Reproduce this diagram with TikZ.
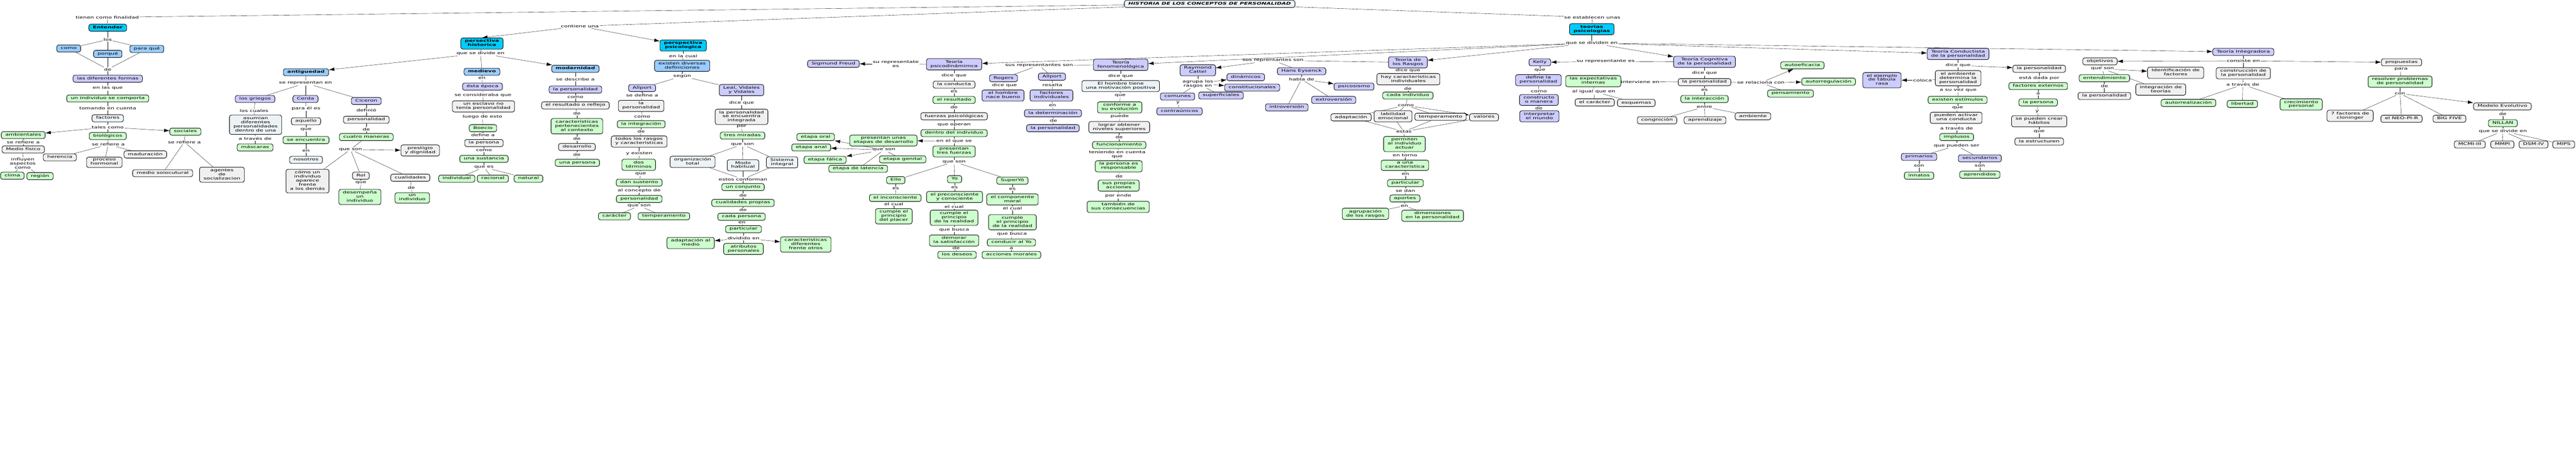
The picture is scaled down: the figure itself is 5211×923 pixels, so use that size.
\documentclass[tikz,border=0pt]{standalone}
\usepackage{fontspec}
\setmainfont{DejaVu Sans}[FakeStretch=1.57]
\usetikzlibrary{arrows.meta,backgrounds}
\definecolor{mapcyan}{RGB}{0,204,255}
\definecolor{mapblue}{RGB}{153,204,255}
\definecolor{maplilac}{RGB}{204,204,255}
\definecolor{mapgreen}{RGB}{204,255,204}
\definecolor{mapgrey}{RGB}{240,240,240}
\definecolor{mappale}{RGB}{236,243,246}
\newcommand{\mapfont}{\fontsize{7.5}{8.3}\selectfont}
\tikzset{
  concept/.style={draw,line width=.9pt,rounded corners=4pt,inner xsep=8pt,inner ysep=3pt,
    align=center,font=\mapfont,execute at begin node=\strut,execute at end node=\strut},
  titlebox/.style={concept,fill=mappale,font=\mapfont\bfseries\itshape},
  cyanbox/.style={concept,fill=mapcyan,font=\mapfont\bfseries},
  bluebox/.style={concept,fill=mapblue},
  boldblue/.style={concept,fill=mapblue,font=\mapfont\bfseries},
  lilacbox/.style={concept,fill=maplilac},
  greenbox/.style={concept,fill=mapgreen},
  greybox/.style={concept,fill=mapgrey},
  palebox/.style={concept,fill=mappale},
  lnk/.style={inner sep=1pt,align=center,font=\mapfont}
}
\begin{document}
\begin{tikzpicture}[x=1pt,y=-1pt,>={Latex[length=11pt,width=7pt]},line width=.8pt]
\useasboundingbox (0,0) rectangle (5211,923);

\node[titlebox] (title) at (2447,8) {HISTORIA DE LOS CONCEPTOS DE PERSONALIDAD};
\node[lnk] (lfin) at (217,35) {tienen como finalidad};
\node[lnk] (lcont) at (1173,53) {contiene una};
\node[lnk] (lestab) at (3221,35) {se establecen unas};

\node[cyanbox] (ent) at (218,56) {Entender};
\node[lnk] (llos) at (218,80) {los};
\node[bluebox] (como) at (139,98) {como};
\node[bluebox] (porque) at (218,109) {porqué};
\node[bluebox] (paraque) at (297,99) {para qué};
\node[lnk] (lde1) at (218,140) {de};
\node[lilacbox] (formas) at (218,159) {las diferentes formas};
\node[lnk] (lenlas) at (218,178) {en las que};
\node[greenbox] (comporta) at (218,199) {un individuo se comporta};
\node[lnk] (ltomando) at (218,219) {tomando en cuenta};
\node[palebox] (factores) at (218,239) {factores};
\node[lnk] (ltales) at (218,257) {tales como};
\node[greenbox] (ambient) at (47,273) {ambientales};
\node[greenbox] (biolog) at (218,275) {biológicos};
\node[greenbox] (social) at (375,266) {sociales};
\node[lnk] (lref1) at (47,287) {se refiere a};
\node[greybox] (mfisico) at (47,302) {Medio físico};
\node[lnk] (linfl) at (46,330) {influyen\\aspectos\\como};
\node[greenbox] (clima) at (25,355) {clima};
\node[greenbox] (region) at (81,356) {región};
\node[lnk] (lref2) at (219,292) {se refiere a};
\node[greybox] (herencia) at (121,318) {herencia};
\node[greybox] (hormonal) at (211,328) {proceso\\hormonal};
\node[greybox] (madur) at (294,312) {maduración};
\node[lnk] (lref3) at (373,287) {se refiere a};
\node[greybox] (medsoc) at (329,350) {medio soiocutural};
\node[greybox] (agentes) at (449,353) {agentes\\de\\socializacion};

\node[cyanbox] (hist) at (975,88) {persectiva\\historica};
\node[lnk] (ldivide) at (972,108) {que se divide en};
\node[boldblue] (antig) at (619,146) {antiguedad};
\node[boldblue] (medievo) at (975,145) {medievo};
\node[boldblue] (modern) at (1164,139) {modernidad};
\node[lnk] (lrepres) at (618,168) {se representan en};
\node[lilacbox] (griegos) at (516,200) {los griegos};
\node[lilacbox] (cerda) at (618,200) {Cerda};
\node[lilacbox] (ciceron) at (741,204) {Ciceron};
\node[lnk] (lcuales) at (514,224) {los cuales};
\node[palebox] (asumian) at (517,252) {asumian\\diferentes\\personalidades\\dentro de una};
\node[lnk] (ltraves1) at (516,280) {a través de};
\node[greenbox] (mascaras) at (516,298) {máscaras};
\node[lnk] (lparael) at (619,219) {para él es};
\node[greybox] (aquello) at (619,245) {aquello};
\node[lnk] (lque1) at (619,262) {que};
\node[greenbox] (seenc) at (619,283) {se encuentra};
\node[lnk] (len1) at (619,305) {en};
\node[palebox] (nosotros) at (619,323) {nosotros};
\node[lnk] (ldefinio) at (741,223) {definió};
\node[greybox] (perso1) at (741,242) {personalidad};
\node[lnk] (lde2) at (741,261) {de};
\node[greenbox] (cuatro) at (741,277) {cuatro maneras};
\node[lnk] (lqueson1) at (709,302) {que son};
\node[greybox] (prestigio) at (850,304) {prestigio\\y dignidad};
\node[greybox] (aparece) at (622,366) {cómo un\\individuo\\aparece\\frente\\a los demás};
\node[greybox] (rol) at (730,355) {Rol};
\node[lnk] (lque2) at (730,369) {que};
\node[greenbox] (desempena) at (728,398) {desempeña\\un\\individuo};
\node[greybox] (cualid) at (830,359) {cualidades};
\node[lnk] (lde3) at (832,379) {de};
\node[greenbox] (unindiv) at (834,400) {un\\individuo};

\node[lnk] (len2) at (975,158) {en};
\node[lilacbox] (epoca) at (976,175) {ésta época};
\node[lnk] (lconsid) at (977,192) {se consideraba que};
\node[greybox] (esclavo) at (978,215) {un esclavo no\\tenía personalidad};
\node[lnk] (lluego) at (976,236) {luego de esto};
\node[greenbox] (boecio) at (977,259) {Boecio};
\node[lnk] (ldefine) at (977,273) {define a};
\node[greybox] (lapersona) at (979,289) {la persona};
\node[lnk] (lcomo1) at (979,304) {como};
\node[greenbox] (sustancia) at (979,321) {una sustancia};
\node[lnk] (lquees) at (979,338) {que es};
\node[greenbox] (individual) at (924,361) {individual};
\node[greenbox] (racional) at (997,361) {racional};
\node[greenbox] (natural) at (1069,361) {natural};

\node[lnk] (ldescribe) at (1164,160) {se describe a};
\node[lilacbox] (persmod) at (1164,181) {la personalidad};
\node[lnk] (lcomo2) at (1164,196) {como};
\node[greybox] (reflejo) at (1164,213) {el resultado o reflejo};
\node[lnk] (lde4) at (1167,229) {de};
\node[greenbox] (contexto) at (1167,255) {características\\pertenecientes\\al contexto};
\node[lnk] (lde5) at (1167,280) {de};
\node[greybox] (desarrollo) at (1167,297) {desarrollo};
\node[lnk] (lde6) at (1167,312) {de};
\node[greenbox] (unapers) at (1168,329) {una persona};

\node[cyanbox] (psico) at (1382,92) {perspectiva\\psicologica};
\node[lnk] (lencual) at (1382,113) {en la cual};
\node[bluebox] (defs) at (1380,133) {existen diversas\\definiciones};
\node[lnk] (lsegun) at (1380,154) {según};
\node[lilacbox] (allport1) at (1299,178) {Allport};
\node[lilacbox] (leal) at (1500,182) {Leal, Vidales\\y Vidales};
\node[lnk] (lsedef) at (1299,193) {se define a};
\node[greybox] (perso2) at (1297,214) {la\\personalidad};
\node[lnk] (lcomo3) at (1299,236) {como};
\node[greenbox] (integra) at (1297,251) {la integración};
\node[lnk] (lde7) at (1297,266) {de};
\node[greybox] (rasgos1) at (1293,286) {todos los rasgos\\y características};
\node[lnk] (lyexist) at (1293,310) {y existen};
\node[greenbox] (terminos) at (1292,333) {dos\\términos};
\node[lnk] (lque3) at (1296,351) {que};
\node[greenbox] (sustento) at (1293,369) {dan sustento};
\node[lnk] (lconcep) at (1293,385) {al concepto de};
\node[greenbox] (perso3) at (1293,402) {personalidad};
\node[lnk] (lqueson2) at (1293,416) {que son};
\node[greenbox] (caracter) at (1243,437) {carácter};
\node[greenbox] (temper1) at (1343,437) {temperamento};
\node[lnk] (ldice1) at (1500,208) {dice que};
\node[greybox] (integrada) at (1500,236) {la personalidad\\se encuentra\\integrada};
\node[lnk] (lpor) at (1500,256) {por};
\node[greenbox] (miradas) at (1502,274) {tres miradas};
\node[lnk] (lqueson3) at (1502,292) {que son};
\node[palebox] (organiz) at (1401,327) {organización\\total};
\node[palebox] (modo) at (1503,334) {Modo\\habitual};
\node[palebox] (sistema) at (1582,328) {Sistema\\integral};
\node[lnk] (lconforman) at (1503,362) {estos conforman};
\node[greenbox] (conjunto) at (1503,378) {un conjunto};
\node[lnk] (lde8) at (1503,395) {de};
\node[greenbox] (propias) at (1503,410) {cualidades propias};
\node[lnk] (lde9) at (1503,424) {de};
\node[greenbox] (cadapers) at (1500,438) {cada persona};
\node[lnk] (len3) at (1501,450) {en};
\node[greenbox] (partic1) at (1504,463) {particular};
\node[lnk] (ldividido) at (1504,481) {dividido en};
\node[greenbox] (adapmedio) at (1397,491) {adaptación al\\medio};
\node[greenbox] (atributos) at (1504,503) {atributos\\personales};
\node[greenbox] (difer) at (1630,494) {características\\diferentes\\frente otros};

\node[cyanbox] (teorias) at (3220,59) {teorias\\psicologias};
\node[lnk] (ldividen) at (3220,87) {que se dividen en};

\node[lilacbox] (psicodin) at (1930,130) {Teoría\\psicodinámimca};
\node[lnk] (lrepfreud) at (1812,129) {su representate\\es};
\node[lilacbox] (freud) at (1686,129) {Sigmund Freud};
\node[lnk] (ldice2) at (1930,153) {dice que};
\node[greybox] (conducta) at (1930,171) {la conducta};
\node[lnk] (les1) at (1930,185) {es};
\node[greenbox] (resultado) at (1930,202) {el resultado};
\node[lnk] (lde10) at (1930,217) {de};
\node[greybox] (fuerzas) at (1930,235) {fuerzas psicológicas};
\node[lnk] (loperan) at (1930,252) {que operan};
\node[greenbox] (dentro) at (1930,269) {dentro del individuo};
\node[lnk] (lenelque) at (1930,285) {en el que se};
\node[greenbox] (etapas) at (1787,284) {presentan unas\\etapas de desarrollo};
\node[greenbox] (tresf) at (1930,306) {presentan\\tres fuerzas};
\node[lnk] (lqueson4) at (1930,327) {que son};
\node[greenbox] (ello) at (1812,364) {Ello};
\node[greenbox] (yo) at (1931,362) {Yo};
\node[greenbox] (superyo) at (2048,365) {SuperYó};
\node[lnk] (les2) at (1812,381) {es};
\node[greenbox] (incons) at (1811,400) {el inconsciente};
\node[lnk] (lcual1) at (1808,412) {el cual};
\node[greenbox] (placer) at (1808,437) {cumple el\\principio\\del placer};
\node[lnk] (les3) at (1931,379) {es};
\node[greenbox] (precons) at (1931,398) {el preconsciente\\y consciente};
\node[lnk] (lcual2) at (1930,418) {el cual};
\node[greenbox] (realidad1) at (1930,440) {cumple el\\principio\\de la realidad};
\node[lnk] (lbusca1) at (1930,464) {que busca};
\node[greenbox] (demorar) at (1930,486) {demorar\\la satisfacción};
\node[lnk] (lde11) at (1934,501) {de};
\node[greenbox] (deseos) at (1936,515) {los deseos};
\node[lnk] (les4) at (2048,382) {es};
\node[greenbox] (moral) at (2048,403) {el componente\\moral};
\node[lnk] (lcual3) at (2048,421) {el cual};
\node[greenbox] (realidad2) at (2048,449) {cumple\\el principio\\de la realidad};
\node[lnk] (lbusca2) at (2047,473) {que busca};
\node[greenbox] (conducir) at (2046,490) {conducir al Yo};
\node[lnk] (la1) at (2046,502) {a};
\node[greenbox] (acciones) at (2046,515) {acciones morales};
\node[lnk] (lqueson5) at (1788,303) {que son};
\node[greenbox] (oral) at (1650,277) {etapa oral};
\node[greenbox] (anal) at (1641,298) {etapa anal};
\node[greenbox] (falica) at (1669,323) {etapa fálica};
\node[greenbox] (latencia) at (1736,341) {etapa de latencia};
\node[greenbox] (genital) at (1826,322) {etapa genital};

\node[lilacbox] (fenom) at (2267,131) {Teoría\\fenomenológica};
\node[lnk] (lrepfen) at (2102,132) {sus representantes son};
\node[lilacbox] (rogers) at (2030,158) {Rogers};
\node[lilacbox] (allport2) at (2128,155) {Allport};
\node[lnk] (ldice3) at (2032,173) {dice que};
\node[lilacbox] (nacebueno) at (2029,193) {el hombre\\nace bueno};
\node[lnk] (lresalta) at (2129,172) {resalta};
\node[lilacbox] (factind) at (2127,193) {factores\\individuales};
\node[lnk] (len4) at (2129,213) {en};
\node[lilacbox] (determ) at (2130,229) {la determinación};
\node[lnk] (lde12) at (2131,244) {de};
\node[lilacbox] (perso4) at (2130,259) {la personalidad};
\node[lnk] (ldice4) at (2267,154) {dice que};
\node[palebox] (motiv) at (2267,174) {El hombre tiene\\una motivación positiva};
\node[lnk] (lque4) at (2266,193) {que};
\node[greenbox] (evolucion) at (2265,217) {conforme a\\su evolución};
\node[lnk] (lpuede) at (2265,235) {puede};
\node[greybox] (niveles) at (2264,257) {lograr obtener\\niveles superiores};
\node[lnk] (lde13) at (2264,277) {de};
\node[greenbox] (funcion) at (2264,293) {funcionamiento};
\node[lnk] (lteniendo) at (2260,312) {teniendo en cuenta\\que};
\node[greenbox] (responsable) at (2263,336) {la persona es\\responsable};
\node[lnk] (lde14) at (2264,356) {de};
\node[greenbox] (propacc) at (2263,375) {sus propias\\acciones};
\node[lnk] (lporende) at (2262,396) {por ende};
\node[greenbox] (consecu) at (2262,418) {también de\\sus consecuencias};

\node[lilacbox] (rasgos) at (2848,126) {Teoría de\\los Rasgos};
\node[lnk] (lreprasg) at (2575,122) {sus reprentantes son};
\node[lilacbox] (cattel) at (2423,142) {Raymond\\Cattel};
\node[lnk] (lagrupa) at (2423,169) {agrupa los\\rasgos en};
\node[lilacbox] (dinamicos) at (2520,156) {dinámicos};
\node[lilacbox] (constit) at (2533,177) {constitucionales};
\node[lilacbox] (comunes) at (2382,195) {comunes};
\node[lilacbox] (superf) at (2470,193) {superficiales};
\node[lnk] (ly1) at (2383,208) {y};
\node[lilacbox] (contrau) at (2386,225) {contraúnicos};
\node[lilacbox] (eysenck) at (2633,144) {Hans Eysenck};
\node[lnk] (lhabla) at (2633,160) {habla de};
\node[lilacbox] (psicos) at (2739,175) {psicosismo};
\node[lilacbox] (extrov) at (2698,202) {extroversión};
\node[lilacbox] (introv) at (2603,217) {introversión};
\node[lnk] (ldice5) at (2848,142) {dice que};
\node[greybox] (haycar) at (2849,160) {hay características\\individuales};
\node[lnk] (lde15) at (2848,179) {de};
\node[greenbox] (cadaind) at (2848,193) {cada individuo};
\node[lnk] (lcomo4) at (2844,213) {como};
\node[greybox] (adaptac) at (2733,237) {adaptación};
\node[greybox] (labil) at (2818,235) {labilidad\\emocional};
\node[greybox] (temper2) at (2914,236) {temperamento};
\node[greybox] (valores) at (3002,237) {valores};
\node[lnk] (lestas) at (2840,266) {estas};
\node[greenbox] (permiten) at (2841,291) {permiten\\al individuo\\actuar};
\node[lnk] (lentorno) at (2842,314) {en torno};
\node[greenbox] (unacar) at (2842,334) {a una\\caracteristica};
\node[lnk] (len5) at (2843,352) {en};
\node[greenbox] (partic2) at (2843,370) {particular};
\node[lnk] (lsedan) at (2843,385) {se dan};
\node[greenbox] (aportes) at (2842,401) {aportes};
\node[lnk] (len6) at (2841,416) {en};
\node[greenbox] (agrupac) at (2762,432) {agrupación\\de los rasgos};
\node[greenbox] (dimens) at (2898,436) {dimensiones\\en la personalidad};

\node[lilacbox] (cognit) at (3448,125) {Teoría Cognitiva\\de la personalidad};
\node[lnk] (lrepkelly) at (3248,124) {su representante es};
\node[lilacbox] (kelly) at (3115,126) {Kelly};
\node[lnk] (lque5) at (3115,142) {que};
\node[lilacbox] (defkelly) at (3112,162) {define la\\personalidad};
\node[lnk] (lcomo5) at (3113,185) {como};
\node[lilacbox] (constructo) at (3113,202) {constructo\\o manera};
\node[lnk] (lde16) at (3113,219) {de};
\node[lilacbox] (interpretar) at (3114,235) {interpretar\\el mundo};
\node[lnk] (ldice6) at (3448,148) {dice que};
\node[greybox] (perso5) at (3448,166) {la personalidad};
\node[lnk] (linterv) at (3318,165) {interviene en};
\node[greenbox] (expect) at (3223,164) {las expectativas\\internas};
\node[lnk] (ligual) at (3224,185) {al igual que en};
\node[greybox] (elcaracter) at (3226,207) {el carácter};
\node[greybox] (esquemas) at (3310,208) {esquemas};
\node[lnk] (les5) at (3448,182) {es};
\node[greenbox] (interacc) at (3448,200) {la interacción};
\node[lnk] (lentre) at (3448,216) {entre};
\node[greybox] (congnic) at (3352,243) {congnición};
\node[greybox] (aprendiz) at (3449,243) {aprendizaje};
\node[greybox] (ambiente) at (3546,235) {ambiente};
\node[lnk] (lrelac) at (3562,167) {se relaciona con};
\node[greenbox] (autoefic) at (3646,132) {autoeficacia};
\node[greenbox] (autorreg) at (3699,165) {autorregulación};
\node[greenbox] (pensam) at (3622,189) {pensamiento};

\node[lilacbox] (conduct) at (3961,109) {Teoría Conductista\\de la personalidad};
\node[lnk] (ldice7) at (3961,132) {dice que};
\node[greybox] (ambdet) at (3961,158) {el ambiente\\determina la\\personalidad};
\node[lnk] (lcoloca) at (3889,162) {coloca};
\node[lilacbox] (tabula) at (3807,162) {el ejemplo\\de tábula\\rasa};
\node[lnk] (lsuvez) at (3961,183) {a su vez que};
\node[greenbox] (estimulos) at (3960,202) {existen estímulos};
\node[lnk] (lque6) at (3960,218) {que};
\node[greybox] (activar) at (3957,238) {pueden activar\\una conducta};
\node[lnk] (ltraves2) at (3958,259) {a través de};
\node[greenbox] (impulsos) at (3958,277) {implusos};
\node[lnk] (lpueden) at (3958,294) {que pueden ser};
\node[lilacbox] (primarios) at (3882,317) {primarios};
\node[lilacbox] (secund) at (4005,320) {secundarios};
\node[lnk] (lson1) at (3882,335) {son};
\node[greenbox] (innatos) at (3882,355) {innatos};
\node[lnk] (lson2) at (4005,335) {son};
\node[greenbox] (aprend) at (4005,353) {aprendidos};
\node[greybox] (perso6) at (4125,139) {la personalidad};
\node[lnk] (ldada) at (4125,158) {está dada por};
\node[greenbox] (externos) at (4123,174) {factores externos};
\node[lnk] (la2) at (4123,189) {a};
\node[greenbox] (lapers2) at (4123,207) {la persona};
\node[lnk] (ly2) at (4121,225) {y};
\node[greybox] (habitos) at (4125,245) {se pueden crear\\hábitos};
\node[lnk] (lque7) at (4125,266) {que};
\node[greybox] (estruct) at (4125,286) {la estructuren};

\node[lilacbox] (integ) at (4538,105) {Teoría Integradora};
\node[lnk] (lconsiste) at (4538,123) {consiste en};
\node[greybox] (objetivos) at (4248,124) {objetivos};
\node[lnk] (lqueson6) at (4253,139) {que son};
\node[greenbox] (entend) at (4257,158) {entendimiento};
\node[lnk] (lde17) at (4257,174) {de};
\node[greybox] (perso7) at (4257,194) {la personalidad};
\node[greybox] (identif) at (4401,147) {Identificación de\\factores};
\node[greybox] (integteo) at (4371,181) {integración de\\teorías};
\node[greybox] (construc) at (4538,148) {construcción de\\la personalidad};
\node[lnk] (ltraves3) at (4537,171) {a través de};
\node[greenbox] (autorreal) at (4427,208) {autorrealización};
\node[greenbox] (libertad) at (4536,210) {libertad};
\node[greenbox] (crecim) at (4655,211) {crecimiento\\personal};
\node[greybox] (propuestas) at (4858,126) {propuestas};
\node[lnk] (lpara) at (4857,140) {para};
\node[greenbox] (resolver) at (4855,165) {resolver problemas\\de personalidad};
\node[lnk] (lcon) at (4855,189) {con};
\node[greybox] (cloninger) at (4754,234) {7 factores de\\cloninger};
\node[greybox] (neo) at (4858,240) {el NEO-PI-R};
\node[greybox] (bigfive) at (4955,240) {BIG FIVE};
\node[greybox] (modelo) at (5062,215) {Modelo Evolutivo};
\node[lnk] (lde18) at (5063,230) {de};
\node[greenbox] (nillan) at (5063,249) {NILLAN};
\node[lnk] (ldivide2) at (5063,265) {que se divide en};
\node[greybox] (mcmi) at (4996,292) {MCMI-III};
\node[greybox] (mmpi) at (5062,292) {MMPI};
\node[greybox] (dsm) at (5125,292) {DSM-IV};
\node[greybox] (mips) at (5186,292) {MIPS};

\begin{scope}[on background layer]
\path (title) edge (lfin) edge (lcont) edge (lestab)
      (lfin) edge (ent)
      (ent) edge (llos)
      (llos) edge (como) edge (porque) edge (paraque)
      (como) edge (lde1) (porque) edge (lde1) (paraque) edge (lde1)
      (lde1) edge (formas) (formas) edge (lenlas) (lenlas) edge (comporta)
      (comporta) edge (ltomando) (ltomando) edge (factores) (factores) edge (ltales)
      (ltales) edge[->] (ambient) edge (biolog) edge[->] (social)
      (ambient) edge (lref1) (lref1) edge (mfisico) (mfisico) edge (linfl)
      (linfl) edge (clima) edge (region)
      (biolog) edge (lref2)
      (lref2) edge (herencia) edge (hormonal) edge (madur)
      (social) edge (lref3)
      (lref3) edge (medsoc) edge (agentes);

\path (lcont) edge[->] (hist.north) edge[->] (psico)
      (hist) edge (ldivide)
      (ldivide) edge[->] (antig) edge (medievo) edge[->] (modern)
      (antig) edge (lrepres)
      (lrepres) edge (griegos) edge (cerda) edge (ciceron)
      (griegos) edge (lcuales) (lcuales) edge (asumian) (asumian) edge (ltraves1) (ltraves1) edge (mascaras)
      (cerda) edge (lparael) (lparael) edge (aquello) (aquello) edge (lque1) (lque1) edge (seenc)
      (seenc) edge (len1) (len1) edge (nosotros)
      (ciceron) edge (ldefinio) (ldefinio) edge (perso1) (perso1) edge (lde2) (lde2) edge (cuatro)
      (cuatro) edge (lqueson1)
      (lqueson1) edge[->] (prestigio) edge (aparece) edge (rol) edge (cualid)
      (rol) edge (lque2) (lque2) edge (desempena)
      (cualid) edge (lde3) (lde3) edge (unindiv)
      (medievo) edge (len2) (len2) edge (epoca) (epoca) edge (lconsid) (lconsid) edge (esclavo)
      (esclavo) edge (lluego) (lluego) edge (boecio) (boecio) edge (ldefine) (ldefine) edge (lapersona)
      (lapersona) edge (lcomo1) (lcomo1) edge (sustancia) (sustancia) edge (lquees)
      (lquees) edge (individual) edge (racional) edge (natural)
      (modern) edge (ldescribe) (ldescribe) edge (persmod) (persmod) edge (lcomo2) (lcomo2) edge (reflejo)
      (reflejo) edge (lde4) (lde4) edge (contexto) (contexto) edge (lde5) (lde5) edge (desarrollo)
      (desarrollo) edge (lde6) (lde6) edge (unapers);

\path (psico) edge (lencual) (lencual) edge (defs) (defs) edge (lsegun)
      (lsegun) edge (allport1) edge (leal)
      (allport1) edge (lsedef) (lsedef) edge (perso2) (perso2) edge (lcomo3) (lcomo3) edge (integra)
      (integra) edge (lde7) (lde7) edge (rasgos1) (rasgos1) edge (lyexist) (lyexist) edge (terminos)
      (terminos) edge (lque3) (lque3) edge (sustento) (sustento) edge (lconcep) (lconcep) edge (perso3)
      (perso3) edge (lqueson2)
      (lqueson2) edge (caracter) edge (temper1)
      (leal) edge (ldice1) (ldice1) edge (integrada) (integrada) edge (lpor) (lpor) edge (miradas)
      (miradas) edge (lqueson3)
      (lqueson3) edge (organiz) edge (modo) edge (sistema)
      (organiz) edge (lconforman) (modo) edge (lconforman) (sistema) edge (lconforman)
      (lconforman) edge (conjunto) (conjunto) edge (lde8) (lde8) edge (propias) (propias) edge (lde9)
      (lde9) edge (cadapers) (cadapers) edge (len3) (len3) edge (partic1) (partic1) edge (ldividido)
      (ldividido) edge[->] (adapmedio) edge (atributos) edge[->] (difer);

\path (lestab) edge (teorias)
      (teorias) edge (ldividen)
      (ldividen) edge[->] (psicodin) edge[->] (fenom) edge[->] (rasgos)
                 edge[->] (cognit) edge[->] (conduct) edge[->] (integ)
      (psicodin) edge (lrepfreud) (lrepfreud) edge[->] (freud)
      (psicodin) edge (ldice2) (ldice2) edge (conducta) (conducta) edge (les1) (les1) edge (resultado)
      (resultado) edge (lde10) (lde10) edge (fuerzas) (fuerzas) edge (loperan) (loperan) edge (dentro)
      (dentro) edge (lenelque)
      (lenelque) edge[->] (etapas) edge (tresf)
      (tresf) edge (lqueson4)
      (lqueson4) edge (ello) edge (yo) edge (superyo)
      (ello) edge (les2) (les2) edge (incons) (incons) edge (lcual1) (lcual1) edge (placer)
      (yo) edge (les3) (les3) edge (precons) (precons) edge (lcual2) (lcual2) edge (realidad1)
      (realidad1) edge (lbusca1) (lbusca1) edge (demorar) (demorar) edge (lde11) (lde11) edge (deseos)
      (superyo) edge (les4) (les4) edge (moral) (moral) edge (lcual3) (lcual3) edge (realidad2)
      (realidad2) edge (lbusca2) (lbusca2) edge (conducir) (conducir) edge (la1) (la1) edge (acciones)
      (etapas) edge (lqueson5)
      (lqueson5) edge[->] (oral) edge[->] (anal) edge[->] (falica) edge (latencia) edge (genital);

\path (fenom) edge (lrepfen)
      (lrepfen) edge (rogers) edge (allport2)
      (rogers) edge (ldice3) (ldice3) edge (nacebueno)
      (allport2) edge (lresalta) (lresalta) edge (factind) (factind) edge (len4) (len4) edge (determ)
      (determ) edge (lde12) (lde12) edge (perso4)
      (fenom) edge (ldice4) (ldice4) edge (motiv) (motiv) edge (lque4) (lque4) edge (evolucion)
      (evolucion) edge (lpuede) (lpuede) edge (niveles) (niveles) edge (lde13) (lde13) edge (funcion)
      (funcion) edge (lteniendo) (lteniendo) edge (responsable) (responsable) edge (lde14)
      (lde14) edge (propacc) (propacc) edge (lporende) (lporende) edge (consecu);

\path (rasgos) edge (lreprasg)
      (lreprasg) edge[->] (cattel) edge (eysenck)
      (cattel) edge (lagrupa)
      (lagrupa) edge[->] (dinamicos) edge[->] (constit) edge (comunes) edge (superf)
      (comunes) edge (ly1) (ly1) edge (contrau)
      (eysenck) edge (lhabla)
      (lhabla) edge[->] (psicos) edge (extrov) edge (introv)
      (rasgos) edge (ldice5) (ldice5) edge (haycar) (haycar) edge (lde15) (lde15) edge (cadaind)
      (cadaind) edge (lcomo4)
      (lcomo4) edge (adaptac) edge (labil) edge (temper2) edge[->] (valores)
      (adaptac) edge (lestas) (labil) edge (lestas) (temper2) edge (lestas) (valores) edge (lestas)
      (lestas) edge (permiten) (permiten) edge (lentorno) (lentorno) edge (unacar) (unacar) edge (len5)
      (len5) edge (partic2) (partic2) edge (lsedan) (lsedan) edge (aportes) (aportes) edge (len6)
      (len6) edge (agrupac) edge (dimens);

\path (cognit) edge (lrepkelly) (lrepkelly) edge[->] (kelly)
      (kelly) edge (lque5) (lque5) edge (defkelly) (defkelly) edge (lcomo5) (lcomo5) edge (constructo)
      (constructo) edge (lde16) (lde16) edge (interpretar)
      (cognit) edge (ldice6) (ldice6) edge (perso5)
      (perso5) edge (linterv) edge (les5) edge (lrelac)
      (linterv) edge[->] (expect)
      (expect) edge (ligual)
      (ligual) edge (elcaracter) edge (esquemas)
      (les5) edge (interacc) (interacc) edge (lentre)
      (lentre) edge (congnic) edge (aprendiz) edge (ambiente)
      (lrelac) edge[->] (autoefic) edge[->] (autorreg) edge (pensam);

\path (conduct) edge (ldice7)
      (ldice7) edge (ambdet) edge[->] (perso6)
      (ambdet) edge (lcoloca) (lcoloca) edge[->] (tabula)
      (ambdet) edge (lsuvez) (lsuvez) edge (estimulos) (estimulos) edge (lque6) (lque6) edge (activar)
      (activar) edge (ltraves2) (ltraves2) edge (impulsos) (impulsos) edge (lpueden)
      (lpueden) edge (primarios) edge (secund)
      (primarios) edge (lson1) (lson1) edge (innatos)
      (secund) edge (lson2) (lson2) edge (aprend)
      (perso6) edge (ldada) (ldada) edge (externos) (externos) edge (la2) (la2) edge (lapers2)
      (lapers2) edge (ly2) (ly2) edge (habitos) (habitos) edge (lque7) (lque7) edge (estruct);

\path (integ) edge (lconsiste)
      (lconsiste) edge[->] (objetivos) edge[->] (propuestas) edge (construc)
      (objetivos) edge (lqueson6)
      (lqueson6) edge (entend) edge[->] (identif) edge (integteo)
      (entend) edge (lde17) (lde17) edge (perso7)
      (construc) edge (ltraves3)
      (ltraves3) edge (autorreal) edge (libertad) edge (crecim)
      (propuestas) edge (lpara) (lpara) edge (resolver) (resolver) edge (lcon)
      (lcon) edge (cloninger) edge (neo) edge (bigfive) edge[->] (modelo)
      (modelo) edge (lde18) (lde18) edge (nillan) (nillan) edge (ldivide2)
      (ldivide2) edge (mcmi) edge (mmpi) edge (dsm) edge (mips);
\end{scope}
\end{tikzpicture}
\end{document}
